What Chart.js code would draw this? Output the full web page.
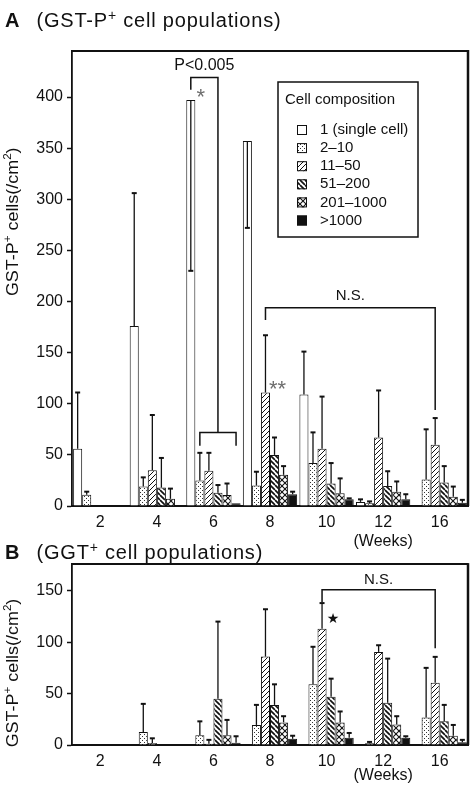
<!DOCTYPE html>
<html>
<head>
<meta charset="utf-8">
<script src="https://cdn.jsdelivr.net/npm/chart.js@4.4.1/dist/chart.umd.min.js"></script>
<style>
  html, body { margin: 0; padding: 0; background: #fff; }
  body { width: 474px; height: 791px; position: relative; overflow: hidden;
         font-family: "Liberation Sans", Arial, Helvetica, sans-serif; color: #111; }
  .ptitle { position: absolute; left: 5px; font-size: 20px; line-height: 20px;
            letter-spacing: 0.8px; white-space: nowrap; z-index: 2; }
  .ptitle b { letter-spacing: 0; }
  .ptitle span { margin-left: 17px; }
  .ptitle sup { font-size: 14px; vertical-align: 7px; line-height: 0; }
  canvas { position: absolute; left: 0; }
  #chartA { top: 0; }
  #chartB { top: 530px; }
</style>
</head>
<body>
<div class="ptitle" style="top:10px"><b>A</b><span>(GST-P<sup>+</sup> cell populations)</span></div>
<div class="ptitle" style="top:542px"><b>B</b><span>(GGT<sup>+</sup> cell populations)</span></div>
<canvas id="chartA" width="474" height="560"></canvas>
<canvas id="chartB" width="474" height="261"></canvas>
<script>
const weeks = ['2', '4', '6', '8', '10', '12', '16'];
const sizeClasses = ['1 (single cell)', '2\u201310', '11\u201350', '51\u2013200', '201\u20131000', '>1000'];

// A: GST-P+ cell populations (/cm2), bar value and end of the SD bar
const gstSingle = [56, 176, 397, 357, 109, 4, 0];
const gst2to10 = [11, 19, 25, 20, 42, 2.6, 26];
const gst11to50 = [0, 35, 34.5, 111, 56, 67, 60];
const gst51to200 = [0, 18, 13, 50, 22, 19.5, 23];
const gst201to1000 = [0, 7, 10.7, 30.5, 12.5, 14, 9];
const gstOver1000 = [0, 0, 2.6, 11.5, 6.5, 6.5, 3.3];

const gstSingleEnd = [111, 306, 230, 272, 151, 6.5, null];
const gst2to10End = [14, 28, 52, 33.5, 72, 4.5, 75];
const gst11to50End = [null, 89, 52, 167, 107, 113, 86];
const gst51to200End = [null, 47, 20.5, 67, 42, 34, 39];
const gst201to1000End = [null, 17, 22, 39, 27, 24, 19];
const gstOver1000End = [null, null, null, 14, 7.5, 11.5, 6];

// B: GGT+ cell populations (/cm2)
const ggtSingle = [0, 0, 0, 0, 0, 0, 0];
const ggt2to10 = [0, 12.7, 9.4, 19.5, 59, 1.6, 26.7];
const ggt11to50 = [0, 2, 1.3, 86, 113, 90.5, 60.6];
const ggt51to200 = [0, 0, 45, 39, 47, 41, 23];
const ggt201to1000 = [0, 0, 9.4, 22, 22, 20, 9];
const ggtOver1000 = [0, 0, 2.3, 6, 7, 7, 2.6];

const ggtSingleEnd = [null, null, null, null, null, null, null];
const ggt2to10End = [null, 40, 23, 39, 95.5, 3, 75];
const ggt11to50End = [null, 6.5, 5, 132, 138, 97, 85.7];
const ggt51to200End = [null, null, 120, 59, 64.5, 84, 39];
const ggt201to1000End = [null, null, 24.4, 28, 32.6, 28, 19.5];
const ggtOver1000End = [null, null, 8.5, 9, 11.7, 8.5, 5];

const INK = '#111';
const GRAY = '#6e6e6e';
const FONT = '"Liberation Sans", Arial, Helvetica, sans-serif';

function makePattern(size, draw) {
  const c = document.createElement('canvas');
  c.width = size;
  c.height = size;
  const g = c.getContext('2d');
  g.fillStyle = '#fff';
  g.fillRect(0, 0, size, size);
  g.fillStyle = INK;
  g.strokeStyle = INK;
  draw(g, size);
  return g.createPattern(c, 'repeat');
}

const dots = makePattern(4, g => {
  g.fillStyle = '#333';
  g.fillRect(0, 0, 1, 1);
  g.fillRect(2, 2, 1, 1);
});
const fwdHatch = makePattern(5, (g, s) => {
  g.lineWidth = 1;
  for (const o of [-s, 0, s]) {
    g.beginPath(); g.moveTo(o, s); g.lineTo(o + s, 0); g.stroke();
  }
});
const backHatch = makePattern(5, (g, s) => {
  g.lineWidth = 1.7;
  for (const o of [-s, 0, s]) {
    g.beginPath(); g.moveTo(o, 0); g.lineTo(o + s, s); g.stroke();
  }
});
const crossHatch = makePattern(6, (g, s) => {
  g.lineWidth = 1.1;
  for (const o of [-s, 0, s]) {
    g.beginPath(); g.moveTo(o, s); g.lineTo(o + s, 0); g.stroke();
    g.beginPath(); g.moveTo(o, 0); g.lineTo(o + s, s); g.stroke();
  }
});
const fills = ['#fff', dots, fwdHatch, backHatch, crossHatch, INK];

function datasetsFor(values, ends) {
  return sizeClasses.map((label, i) => ({
    label: label,
    data: values[i],
    errEnd: ends[i],
    backgroundColor: fills[i],
    borderColor: INK,
    borderWidth: 1,
    categoryPercentage: 0.96,
    barPercentage: 1,
  }));
}

function line(ctx, pts) {
  ctx.beginPath();
  pts.forEach(([x, y], k) => (k ? ctx.lineTo(x, y) : ctx.moveTo(x, y)));
  ctx.stroke();
}

function label(ctx, text, x, y, size, color) {
  ctx.fillStyle = color;
  ctx.font = `${size}px ${FONT}`;
  ctx.textAlign = 'center';
  ctx.textBaseline = 'middle';
  ctx.fillText(text, x, y);
}

// text with superscripts, centred on (cx, cy)
function drawRich(ctx, parts, cx, cy, size) {
  const fontOf = p => `${p.sup ? size * 0.65 : size}px ${FONT}`;
  const widths = parts.map(p => { ctx.font = fontOf(p); return ctx.measureText(p.t).width; });
  let x = cx - widths.reduce((a, b) => a + b, 0) / 2;
  ctx.textAlign = 'left';
  ctx.textBaseline = 'alphabetic';
  parts.forEach((p, i) => {
    ctx.font = fontOf(p);
    ctx.fillText(p.t, x, cy + size * 0.36 - (p.sup ? size * 0.42 : 0));
    x += widths[i];
  });
}

const yTitleParts = [{ t: 'GST-P' }, { t: '+', sup: true }, { t: ' cells(/cm' }, { t: '2', sup: true }, { t: ')' }];

function drawLegend(chart) {
  const ctx = chart.ctx;
  const a = chart.chartArea;
  const left = a.right - 190, top = a.top + 31, w = 140, h = 155;
  ctx.fillStyle = '#fff';
  ctx.fillRect(left, top, w, h);
  ctx.lineWidth = 1.5;
  ctx.strokeStyle = INK;
  ctx.strokeRect(left, top, w, h);
  ctx.fillStyle = INK;
  ctx.font = `15px ${FONT}`;
  ctx.textAlign = 'left';
  ctx.textBaseline = 'middle';
  ctx.fillText('Cell composition', left + 7, top + 18);
  chart.data.datasets.forEach((ds, i) => {
    const cy = top + 48 + i * 18.1;
    ctx.fillStyle = ds.backgroundColor;
    ctx.fillRect(left + 19, cy - 5, 10, 10);
    ctx.lineWidth = 1;
    ctx.strokeRect(left + 19.5, cy - 4.5, 9, 9);
    ctx.fillStyle = INK;
    ctx.fillText(ds.label, left + 42, cy);
  });
}

// significance marks
function marksA(chart) {
  const ctx = chart.ctx;
  const y = v => chart.scales.y.getPixelForValue(v);
  const bx = (d, i) => chart.getDatasetMeta(d).data[i].x;
  ctx.strokeStyle = INK;
  ctx.lineWidth = 1.5;
  // 6 weeks: single cells against the multicellular classes
  const xl = bx(0, 2), xa = bx(1, 2), xb = bx(5, 2), xm = (xa + xb) / 2;
  line(ctx, [[xl, y(407)], [xl, y(419)], [xm, y(419)], [xm, y(72)]]);
  line(ctx, [[xa, y(59)], [xa, y(72)], [xb, y(72)], [xb, y(59)]]);
  label(ctx, 'P<0.005', (xl + xm) / 2, y(431), 16, INK);
  label(ctx, '*', xl + 10, y(399), 22, GRAY);
  // 11-50 class, 8 vs 16 weeks
  const x8 = bx(2, 3), x16 = bx(2, 6);
  line(ctx, [[x8, y(182)], [x8, y(194)], [x16, y(194)], [x16, y(94)]]);
  label(ctx, 'N.S.', (x8 + x16) / 2, y(206), 15, INK);
  label(ctx, '**', x8 + 12, y(114), 22, GRAY);
  drawLegend(chart);
}

function marksB(chart) {
  const ctx = chart.ctx;
  const y = v => chart.scales.y.getPixelForValue(v);
  const bx = (d, i) => chart.getDatasetMeta(d).data[i].x;
  ctx.strokeStyle = INK;
  ctx.lineWidth = 1.5;
  const x10 = bx(2, 4), x16 = bx(2, 6);
  line(ctx, [[x10, y(139)], [x10, y(151)], [x16, y(151)], [x16, y(94)]]);
  label(ctx, 'N.S.', (x10 + x16) / 2, y(161), 15, INK);
  ctx.font = `14px "DejaVu Sans", ${FONT}`;
  ctx.fillStyle = INK;
  ctx.textAlign = 'center';
  ctx.textBaseline = 'middle';
  ctx.fillText('\u2605', x10 + 11, y(122));
}

const extraMarks = { chartA: marksA, chartB: marksB };

const decorPlugin = {
  id: 'decor',
  afterDatasetsDraw(chart) {
    const ctx = chart.ctx;
    const yS = chart.scales.y;
    const a = chart.chartArea;
    ctx.save();
    ctx.strokeStyle = INK;
    // SD bars, from the bar top to the recorded end (downwards when smaller)
    chart.data.datasets.forEach((ds, di) => {
      const meta = chart.getDatasetMeta(di);
      ds.errEnd.forEach((end, i) => {
        if (end == null) return;
        const bar = meta.data[i];
        const y0 = yS.getPixelForValue(ds.data[i]);
        const y1 = yS.getPixelForValue(end);
        ctx.lineWidth = 1.3;
        line(ctx, [[bar.x, y0], [bar.x, y1]]);
        ctx.lineWidth = 2;
        line(ctx, [[bar.x - 2.5, y1], [bar.x + 2.5, y1]]);
      });
    });
    // top and right of the frame
    ctx.lineWidth = 1.8;
    line(ctx, [[a.left - 1, a.top], [a.right, a.top]]);
    ctx.lineWidth = 2.5;
    line(ctx, [[a.right, a.top - 0.9], [a.right, a.bottom]]);
    const fn = extraMarks[chart.canvas.id];
    if (fn) fn(chart);
    ctx.restore();
  },
  afterDraw(chart, args, opts) {
    const ctx = chart.ctx;
    const a = chart.chartArea;
    ctx.save();
    ctx.fillStyle = INK;
    ctx.translate(12, chart.scales.y.getPixelForValue(opts.titleAt));
    ctx.rotate(-Math.PI / 2);
    ctx.scale(1.12, 1);
    drawRich(ctx, yTitleParts, 0, 0, 16);
    ctx.restore();
    ctx.save();
    label(ctx, '(Weeks)', chart.scales.x.getPixelForValue(5), a.bottom + opts.weeksGap, 16, INK);
    ctx.restore();
  },
};

function makeOptions(yMax, axisHeight, padTop, decor) {
  return {
    responsive: false,
    animation: false,
    events: [],
    layout: { padding: { top: padTop, right: 6, left: 0, bottom: 0 } },
    plugins: { legend: { display: false }, tooltip: { enabled: false }, decor: decor },
    scales: {
      x: {
        grid: { display: false, drawTicks: false },
        border: { display: true, color: INK, width: 2 },
        ticks: { color: INK, font: { family: FONT, size: 16 }, padding: 7, maxRotation: 0, autoSkip: false },
        afterFit: s => { s.height = axisHeight; },
      },
      y: {
        min: 0,
        max: yMax,
        grid: { drawOnChartArea: false, drawTicks: true, tickLength: 5, tickWidth: 1.5, tickColor: INK },
        border: { display: true, color: INK, width: 1.8 },
        ticks: { stepSize: 50, color: INK, font: { family: FONT, size: 16 }, padding: 4 },
        afterBuildTicks: s => { s.ticks = s.ticks.filter(t => t.value % 50 === 0); },
        afterFit: s => { s.width = 72; },
      },
    },
  };
}

new Chart(document.getElementById('chartA'), {
  type: 'bar',
  data: {
    labels: weeks,
    datasets: datasetsFor(
      [gstSingle, gst2to10, gst11to50, gst51to200, gst201to1000, gstOver1000],
      [gstSingleEnd, gst2to10End, gst11to50End, gst51to200End, gst201to1000End, gstOver1000End]
    ),
  },
  options: makeOptions(445, 54, 51, { titleAt: 278, weeksGap: 36 }),
  plugins: [decorPlugin],
});

new Chart(document.getElementById('chartB'), {
  type: 'bar',
  data: {
    labels: weeks,
    datasets: datasetsFor(
      [ggtSingle, ggt2to10, ggt11to50, ggt51to200, ggt201to1000, ggtOver1000],
      [ggtSingleEnd, ggt2to10End, ggt11to50End, ggt51to200End, ggt201to1000End, ggtOver1000End]
    ),
  },
  options: makeOptions(176, 46, 34, { titleAt: 70, weeksGap: 31 }),
  plugins: [decorPlugin],
});
</script>
</body>
</html>
